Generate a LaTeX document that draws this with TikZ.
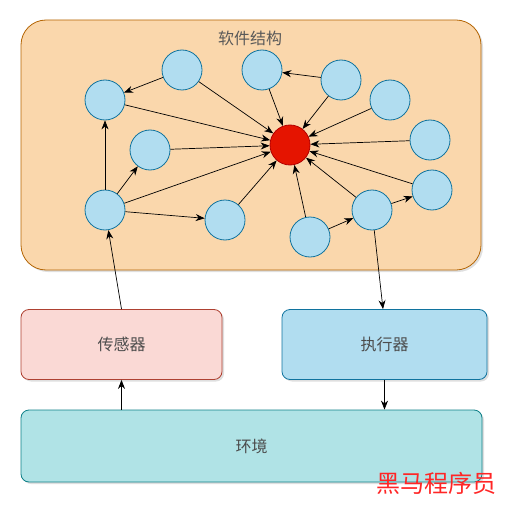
\documentclass[tikz,border=0pt]{standalone}
\usepackage{fontspec}
\newfontfamily\cjk{Noto Sans CJK SC}
\usetikzlibrary{arrows.meta,shadows}
\definecolor{swfill}{HTML}{FAD7AC}
\definecolor{swdraw}{HTML}{B46504}
\definecolor{sensfill}{HTML}{FAD9D5}
\definecolor{sensdraw}{HTML}{AE4132}
\definecolor{actfill}{HTML}{B1DDF0}
\definecolor{actdraw}{HTML}{10739E}
\definecolor{envfill}{HTML}{B0E3E6}
\definecolor{envdraw}{HTML}{0E8088}
\definecolor{hubfill}{HTML}{E51400}
\definecolor{hubdraw}{HTML}{B20000}
\tikzset{ box_style/.style = { rectangle % outer block
        , draw
        , line width = 0.8pt
        , rounded corners = 8pt
        , drop shadow = {opacity=0.25, shadow xshift=2pt, shadow yshift=-2pt}
        , font = \cjk\fontsize{16}{16}\selectfont
        , text = black!70
        }
        , title_style/.style = { rectangle % block title
        , font = \cjk\fontsize{16}{16}\selectfont
        , text = black!65
        }
        }

\begin{document}
\begin{tikzpicture}[x=1pt, y=-1pt,
        node_style/.style={circle,draw=actdraw,fill=actfill,line width=0.8pt,minimum size=40pt,inner sep=0pt},
        hub_style/.style={circle,draw=hubdraw,fill=hubfill,line width=0.8pt,minimum size=40pt,inner sep=0pt},
        edge_style/.style={draw=black, line width=0.7pt,-{Stealth[length=9pt,width=7pt]}}]
        \useasboundingbox (0,0) rectangle (510,505);

        \node [box_style,draw=swdraw,fill=swfill,rounded corners=25pt,minimum width=460pt,minimum height=250pt](sw) at (251,145) {};
        \node [title_style](sw_title) at (250,38) {软件结构};
        \node [box_style,draw=sensdraw,fill=sensfill,minimum width=201pt,minimum height=70pt](sensor) at (121.5,344.5) {传感器};
        \node [box_style,draw=actdraw,fill=actfill,minimum width=205pt,minimum height=70pt](act) at (384.5,344.5) {执行器};
        \node [box_style,draw=envdraw,fill=envfill,minimum width=461pt,minimum height=72pt](env) at (251.5,446) {环境};

        \node [hub_style](hub) at (290,145) {};
        \node [node_style](n1) at (105,100) {};
        \node [node_style](n2) at (182,70) {};
        \node [node_style](n3) at (150,150) {};
        \node [node_style](n4) at (105,210) {};
        \node [node_style](n5) at (225,220) {};
        \node [node_style](n6) at (262,70) {};
        \node [node_style](n7) at (341,80) {};
        \node [node_style](n8) at (390,100) {};
        \node [node_style](n9) at (430,140) {};
        \node [node_style](n10) at (432,190) {};
        \node [node_style](n11) at (372,210) {};
        \node [node_style](n12) at (310,237) {};

        \foreach \src in {n1,n2,n3,n4,n5,n6,n7,n8,n9,n10,n11,n12}
            \draw [edge_style] (\src) -- (hub);
        \draw [edge_style] (n2) -- (n1);
        \draw [edge_style] (n4) -- (n1);
        \draw [edge_style] (n4) -- (n3);
        \draw [edge_style] (n4) -- (n5);
        \draw [edge_style] (n7) -- (n6);
        \draw [edge_style] (n11) -- (n10);
        \draw [edge_style] (n12) -- (n11);

        \draw [edge_style] (sensor.north) -- (n4);
        \draw [edge_style] (n11) -- (act.north -| 383,0);
        \draw [edge_style] (env.north -| sensor) -- (sensor);
        \draw [edge_style] (act) -- (env.north -| act);

        \node [font=\cjk\fontsize{24}{24}\selectfont,text=red!85,anchor=east](mark) at (500,483) {黑马程序员};
\end{tikzpicture}
\end{document}
